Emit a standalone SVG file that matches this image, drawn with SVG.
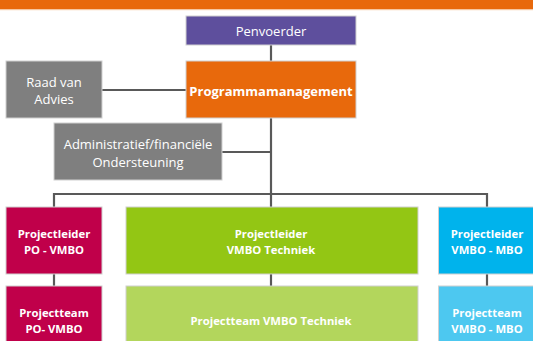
<svg xmlns="http://www.w3.org/2000/svg" width="533" height="341" viewBox="0 0 533 341">
<style>
.box{stroke:#d0d0d0;stroke-width:1}
.t{font-family:"Open Sans","Liberation Sans",sans-serif;fill:#fff;text-anchor:middle;font-size:13px}
.b{font-weight:bold;font-size:11.3px}
.c{stroke:#595959;stroke-width:2.2;fill:none}
</style>
<rect width="533" height="341" fill="#fff"/>
<rect x="0" y="0" width="533" height="9" fill="#E8690C"/>
<rect x="0" y="9" width="533" height="1.2" fill="#F6C6A0"/>
<g id="connectors">
<line class="c" x1="271" y1="45" x2="271" y2="61"/>
<line class="c" x1="102" y1="90" x2="186" y2="90"/>
<line class="c" x1="271" y1="118" x2="271" y2="207"/>
<line class="c" x1="222" y1="152" x2="271" y2="152"/>
<polyline class="c" points="54,207 54,194 487,194 487,207"/>
<line class="c" x1="54" y1="274" x2="54" y2="286"/>
<line class="c" x1="271" y1="274" x2="271" y2="286"/>
<line class="c" x1="487" y1="274" x2="487" y2="286"/>
</g>
<g id="penvoerder">
<rect class="box" x="186" y="16" width="170" height="29" fill="#5E4F9D"/>
<text class="t" x="271" y="36">Penvoerder</text>
</g>
<g id="programmamanagement">
<rect class="box" x="186" y="61" width="170" height="57" fill="#E8690C"/>
<text class="t" x="271" y="95.5" font-weight="bold" font-size="12.8">Programmamanagement</text>
</g>
<g id="raad">
<rect class="box" x="6" y="61" width="96" height="57" fill="#7F7F7F"/>
<text class="t" x="54" y="86.5">Raad van</text>
<text class="t" x="54" y="104">Advies</text>
</g>
<g id="admin">
<rect class="box" x="54" y="123" width="168" height="57" fill="#7F7F7F"/>
<text class="t" x="138" y="148.5">Administratief/financiële</text>
<text class="t" x="138" y="167">Ondersteuning</text>
</g>
<g id="pl-po">
<rect class="box" x="6" y="207" width="96" height="67" fill="#C0004A"/>
<text class="t b" x="54" y="238">Projectleider</text>
<text class="t b" x="54" y="254">PO - VMBO</text>
</g>
<g id="pl-tech">
<rect class="box" x="126" y="207" width="292" height="67" fill="#93C614"/>
<text class="t b" x="271" y="238">Projectleider</text>
<text class="t b" x="271" y="254">VMBO Techniek</text>
</g>
<g id="pl-mbo">
<rect class="box" x="438.5" y="207" width="96" height="67" fill="#00B3EC"/>
<text class="t b" x="487" y="238">Projectleider</text>
<text class="t b" x="487" y="254">VMBO - MBO</text>
</g>
<g id="pt-po">
<rect class="box" x="6" y="286" width="96" height="60" fill="#C0004A"/>
<text class="t b" x="54" y="317">Projectteam</text>
<text class="t b" x="54" y="332.5">PO- VMBO</text>
</g>
<g id="pt-tech">
<rect class="box" x="126" y="286" width="292" height="60" fill="#B3D65C"/>
<text class="t b" x="271" y="324.5">Projectteam VMBO Techniek</text>
</g>
<g id="pt-mbo">
<rect class="box" x="438.5" y="286" width="96" height="60" fill="#4DC8F0"/>
<text class="t b" x="487" y="317">Projectteam</text>
<text class="t b" x="487" y="332.5">VMBO - MBO</text>
</g>
</svg>
